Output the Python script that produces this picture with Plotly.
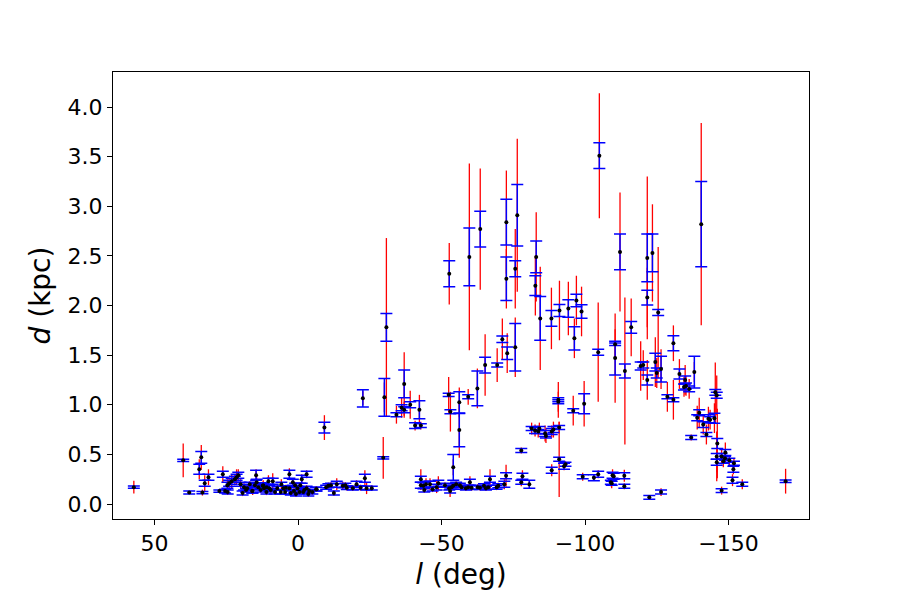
import plotly.graph_objects as go

# Galactic longitude (deg)
l_deg = [
    57.2, 40.0, 37.9, 33.7, 34.4, 33.3, 32.5, 31.2, 27.4, 26.2, 25.4, 24.6, 24.0, 23.1, 21.4, 20.8,
    24.5, 19.3, 18.8, 18.1, 17.7, 15.8, 14.6, 14.4, 13.8, 13.0, 12.3, 11.8, 10.3, 10.0, 9.5, 8.8,
    7.2, 5.1, 4.2, 3.0, 3.0, 1.8, 1.4, 0.2, -0.5, -1.3, -1.8, -3.0, -3.0, -3.9, -6.3, -9.2,
    -9.8, -10.6, -12.5, -13.5, -15.6, -17.0, -19.1, -20.4, -21.8, -22.6, -23.3, -23.9, -25.7, -29.7,
    -30.1, -30.8,
    16.0, 12.1, 10.9, 0.7, -3.6, -6.5, 6.0, 2.5, -2.2, 5.8, 11.0, 15.0, 20.0, 16.8, -5.0, 8.0,
    -0.8, 1.0, 4.5, 22.0, -11.5, -16.5,
    -34.3, -36.1, -37.0, -37.0, -39.1, -40.8, -42.3, -42.8,
    -42.8, -42.8, -43.7, -44.6, -44.0, -46.0, -46.9, -48.3, -48.9, -51.2, -52.7, -53.0, -53.5, -54.1,
    -55.1, -56.4, -57.0, -58.5, -59.3, -59.9, -60.5, -62.6, -63.4, -64.8, -65.5, -66.3, -66.9, -69.2,
    -69.8, -71.9, -72.5, -54.1,
    -52.5, -53.1, -52.7, -56.2, -56.2, -59.3, -59.7, -62.5, -63.5, -65.2, -69.4, -71.2, -72.9, -72.6,
    -72.6, -75.7, -75.7, -76.4, -83.0, -82.7, -84.4,
    -77.8, -78.2, -77.8, -80.6, -81.4, -82.6, -83.7, -84.1, -86.1, -86.4, -88.4, -89.0, -91.0, -91.0,
    -90.7, -90.7, -88.4, -92.7, -93.2, -95.9, -99.7, -99.2, -103.1, -104.6, -109.0, -110.0, -109.6,
    -109.3, -113.7, -113.7, -122.4, -126.5,
    -88.3, -91.1, -94.2, -97.0, -98.8, -96.3, -104.6, -105.0, -110.5, -110.5, -112.2, -113.9, -116.1,
    -121.7, -123.5, -121.7, -125.5,
    -119.4, -120.3, -121.7, -124.5, -125.0, -126.5, -128.7, -130.8, -130.8, -132.9, -134.9, -134.5,
    -135.2, -136.3, -138.1, -137.0, -140.5,
    -145.4, -145.9, -139.8, -139.1, -143.0, -143.6, -145.1, -141.2, -142.3, -146.1, -148.9, -145.9,
    -147.6, -145.9, -148.2, -148.8, -150.3, -151.9, -151.7, -151.4, -154.8, -147.6, -169.9,
]

# Distance (kpc)
d_kpc = [
    0.17, 0.44, 0.115, 0.47, 0.35, 0.115, 0.21, 0.27, 0.13, 0.30, 0.13, 0.19, 0.21, 0.23, 0.27, 0.29,
    0.12, 0.11, 0.17, 0.14, 0.16, 0.13, 0.29, 0.22, 0.17, 0.14, 0.185, 0.16, 0.23, 0.16, 0.14, 0.23,
    0.16, 0.16, 0.165, 0.30, 0.16, 0.22, 0.13, 0.16, 0.12, 0.25, 0.12, 0.30, 0.16, 0.13, 0.15, 0.77,
    0.17, 0.185, 0.11, 0.20, 0.185, 0.165, 0.16, 0.20, 0.165, 1.065, 0.26, 0.16, 0.16, 0.465,
    1.075, 1.78,
    0.13, 0.19, 0.17, 0.10, 0.10, 0.15, 0.12, 0.11, 0.14, 0.20, 0.12, 0.19, 0.20, 0.20, 0.12, 0.12,
    0.19, 0.19, 0.12, 0.25, 0.19, 0.19,
    0.90, 0.97, 1.21, 0.95, 1.00, 0.79, 0.95, 0.79,
    0.25, 0.19, 0.185, 0.20, 0.14, 0.20, 0.15, 0.17, 0.21, 0.19, 0.16, 0.13, 0.17, 0.185,
    0.20, 0.19, 0.17, 0.16, 0.17, 0.22, 0.165, 0.17, 0.165, 0.185, 0.16, 0.17, 0.25, 0.17,
    0.185, 0.20, 0.285, 0.37,
    1.10, 0.93, 2.32, 1.025, 0.745, 1.08, 2.49, 1.165, 2.77, 1.40, 1.40, 1.66, 1.52, 2.84,
    2.27, 1.58, 2.37, 2.91, 2.49, 2.20, 1.87,
    0.54, 0.28, 0.22, 0.20, 0.76, 0.74, 0.73, 0.76, 0.71, 0.685, 0.73, 0.75, 0.77, 0.45,
    1.05, 1.03, 0.34, 0.38, 0.40, 0.94, 1.01, 0.275, 0.265, 0.30, 0.22, 0.28, 0.29,
    0.21, 0.285, 0.18, 0.067, 0.12,
    1.87, 1.95, 1.97, 2.05, 1.94, 1.67, 1.53, 3.51, 1.61, 1.47, 2.54, 1.34, 1.78,
    2.48, 2.53, 2.08, 1.93,
    1.39, 1.40, 1.25, 1.43, 1.32, 1.36, 1.08, 1.05, 1.62, 1.31, 1.25, 1.18,
    1.19, 1.16, 1.33, 0.67, 2.82,
    1.125, 1.095, 0.92, 0.87, 0.86, 0.85, 0.865, 0.80, 0.70, 0.61, 0.52, 0.48,
    0.48, 0.42, 0.43, 0.46, 0.44, 0.41, 0.35, 0.24, 0.20, 0.135, 0.23,
]

# Smaller (blue, capped) uncertainty on d (kpc)
d_err_blue = [
    0.012, 0.012, 0.015, 0.06, 0.05, 0.012, 0.03, 0.03, 0.012, 0.03, 0.02, 0.03, 0.03, 0.03, 0.03, 0.03,
    0.02, 0.02, 0.03, 0.02, 0.02, 0.02, 0.05, 0.03, 0.03, 0.02, 0.03, 0.02, 0.03, 0.03, 0.02, 0.03,
    0.02, 0.02, 0.02, 0.04, 0.02, 0.03, 0.02, 0.02, 0.02, 0.04, 0.02, 0.03, 0.02, 0.02, 0.02, 0.055,
    0.02, 0.02, 0.02, 0.03, 0.02, 0.02, 0.02, 0.03, 0.02, 0.087, 0.04, 0.02, 0.02, 0.012,
    0.19, 0.14,
    0.02, 0.02, 0.02, 0.02, 0.02, 0.02, 0.02, 0.02, 0.02, 0.02, 0.02, 0.02, 0.02, 0.02, 0.02, 0.02,
    0.02, 0.02, 0.02, 0.03, 0.02, 0.02,
    0.02, 0.03, 0.14, 0.03, 0.03, 0.03, 0.09, 0.02,
    0.03, 0.03, 0.03, 0.03, 0.02, 0.03, 0.02, 0.03, 0.03, 0.02, 0.02, 0.02, 0.02, 0.02,
    0.02, 0.02, 0.02, 0.02, 0.02, 0.03, 0.02, 0.02, 0.02, 0.02, 0.02, 0.02, 0.03, 0.02,
    0.02, 0.03, 0.03, 0.13,
    0.017, 0.02, 0.13, 0.107, 0.168, 0.02, 0.29, 0.175, 0.18, 0.08, 0.02, 0.033, 0.063, 0.23,
    0.22, 0.24, 0.08, 0.31, 0.16, 0.10, 0.22,
    0.02, 0.03, 0.02, 0.04, 0.02, 0.03, 0.02, 0.02, 0.03, 0.02, 0.03, 0.03, 0.02, 0.02,
    0.02, 0.02, 0.03, 0.03, 0.02, 0.02, 0.10, 0.02, 0.03, 0.03, 0.02, 0.03, 0.03,
    0.02, 0.03, 0.02, 0.02, 0.02,
    0.08, 0.06, 0.087, 0.063, 0.067, 0.117, 0.03, 0.13, 0.012, 0.17, 0.18, 0.07, 0.06,
    0.24, 0.19, 0.075, 0.03,
    0.04, 0.03, 0.05, 0.09, 0.05, 0.13, 0.02, 0.02, 0.075, 0.05, 0.04, 0.03,
    0.03, 0.03, 0.16, 0.02, 0.43,
    0.03, 0.03, 0.03, 0.03, 0.04, 0.03, 0.05, 0.03, 0.02, 0.05, 0.03, 0.03,
    0.03, 0.03, 0.02, 0.02, 0.02, 0.02, 0.03, 0.03, 0.02, 0.02, 0.012,
]

# Larger (red, uncapped) uncertainty on d (kpc)
d_err_red = [
    0.065, 0.17, 0.012, 0.125, 0.10, 0.03, 0.08, 0.08, 0.012, 0.08, 0.03, 0.06, 0.06, 0.07, 0.08, 0.06,
    0.03, 0.03, 0.04, 0.03, 0.04, 0.04, 0.06, 0.05, 0.04, 0.03, 0.04, 0.03, 0.06, 0.04, 0.03, 0.08,
    0.03, 0.03, 0.03, 0.06, 0.03, 0.04, 0.03, 0.03, 0.03, 0.05, 0.03, 0.04, 0.03, 0.03, 0.03, 0.125,
    0.03, 0.03, 0.03, 0.06, 0.04, 0.03, 0.03, 0.04, 0.03, 0.07, 0.08, 0.06, 0.03, 0.21,
    0.15, 0.9,
    0.03, 0.05, 0.03, 0.03, 0.03, 0.03, 0.03, 0.03, 0.03, 0.05, 0.03, 0.03, 0.05, 0.03, 0.03, 0.03,
    0.03, 0.03, 0.03, 0.05, 0.03, 0.03,
    0.09, 0.10, 0.32, 0.08, 0.14, 0.05, 0.15, 0.04,
    0.10, 0.05, 0.04, 0.06, 0.03, 0.06, 0.03, 0.06, 0.07, 0.03, 0.03, 0.06, 0.03, 0.03,
    0.03, 0.03, 0.03, 0.03, 0.03, 0.06, 0.03, 0.03, 0.03, 0.03, 0.03, 0.03, 0.10, 0.03,
    0.03, 0.05, 0.11, 0.08,
    0.18, 0.20, 0.31, 0.15, 0.28, 0.08, 0.94, 0.20, 0.61, 0.31, 0.17, 0.21, 0.20, 0.52,
    0.30, 0.30, 0.40, 0.77, 0.45, 0.30, 0.52,
    0.03, 0.06, 0.04, 0.03, 0.06, 0.06, 0.06, 0.06, 0.08, 0.07, 0.06, 0.08, 0.06, 0.38,
    0.18, 0.10, 0.06, 0.04, 0.03, 0.15, 0.23, 0.04, 0.03, 0.04, 0.04, 0.04, 0.06,
    0.05, 0.06, 0.03, 0.02, 0.04,
    0.31, 0.30, 0.27, 0.25, 0.25, 0.20, 0.50, 0.63, 0.15, 0.45, 0.60, 0.74, 0.29,
    0.82, 0.49, 0.30, 0.66,
    0.25, 0.15, 0.20, 0.25, 0.15, 0.20, 0.15, 0.20, 0.18, 0.15, 0.15, 0.10,
    0.10, 0.10, 0.10, 0.03, 1.02,
    0.30, 0.20, 0.15, 0.12, 0.12, 0.10, 0.15, 0.10, 0.10, 0.35, 0.10, 0.25,
    0.08, 0.10, 0.06, 0.05, 0.05, 0.05, 0.05, 0.06, 0.05, 0.04, 0.125,
]

x_tick_vals = [50, 0, -50, -100, -150]
y_tick_vals = [0.0, 0.5, 1.0, 1.5, 2.0, 2.5, 3.0, 3.5, 4.0]
y_tick_text = ["0.0", "0.5", "1.0", "1.5", "2.0", "2.5", "3.0", "3.5", "4.0"]

assert len(l_deg) == len(d_kpc) == len(d_err_blue) == len(d_err_red), (
    len(l_deg), len(d_kpc), len(d_err_blue), len(d_err_red))

FONT = "DejaVu Sans"

fig = go.Figure()
fig.add_trace(go.Scatter(
    x=l_deg, y=d_kpc, mode="markers",
    marker=dict(size=4, color="rgba(0,0,0,0)"),
    error_y=dict(type="data", array=d_err_red, symmetric=True,
                 color="#ff0000", thickness=1.3, width=0),
    hoverinfo="skip", showlegend=False,
))
fig.add_trace(go.Scatter(
    x=l_deg, y=d_kpc, mode="markers",
    marker=dict(size=4, color="black", symbol="circle"),
    error_y=dict(type="data", array=d_err_blue, symmetric=True,
                 color="#0000ff", thickness=1.5, width=6),
    showlegend=False,
))

axis_common = dict(
    showline=True, mirror=True, linecolor="black", linewidth=1,
    ticks="outside", ticklen=5, tickwidth=1, tickcolor="black",
    showgrid=False, zeroline=False,
    tickfont=dict(family=FONT, size=22, color="black"),
)

# The page body has an 8px default margin, so the figure is 8px smaller
# and its left/top margins are reduced by 8px to land the axes in place.
fig.update_layout(
    width=892, height=592,
    margin=dict(l=105, r=91, t=64, b=81),
    paper_bgcolor="white", plot_bgcolor="white",
    font=dict(family=FONT, color="black"),
    xaxis=dict(
        range=[64.46, -178.05], tickvals=x_tick_vals,
        title=dict(text="<i>l</i> (deg)", font=dict(family=FONT, size=28, color="black"),
                   standoff=8),
        **axis_common,
    ),
    yaxis=dict(
        range=[-0.151, 4.353], tickvals=y_tick_vals, ticktext=y_tick_text,
        title=dict(text="<i>d</i> (kpc)", font=dict(family=FONT, size=28, color="black"),
                   standoff=8),
        **axis_common,
    ),
)

fig.write_html("out.html")
